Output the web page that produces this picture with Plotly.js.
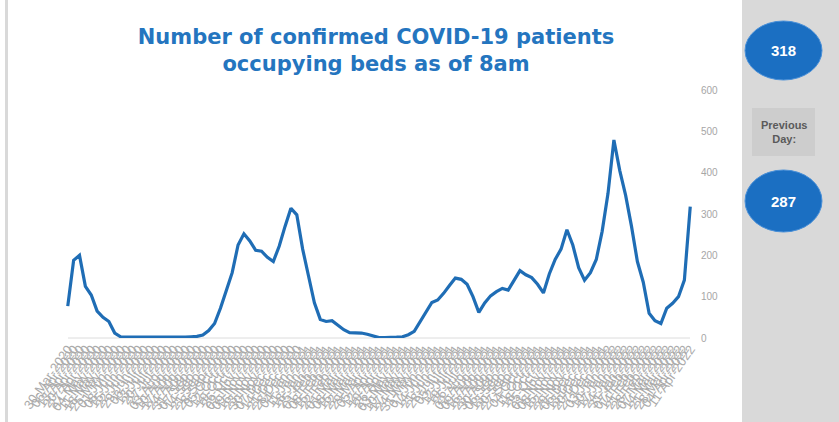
<!DOCTYPE html>
<html>
<head>
<meta charset="utf-8">
<script src="https://cdn.plot.ly/plotly-3.0.1.min.js"></script>
<style>
  html, body { margin: 0; padding: 0; background: #ffffff; }
  #chart { width: 839px; height: 422px; }
</style>
</head>
<body>
<div id="chart"></div>
<script>
// Weekly census of confirmed COVID-19 patients occupying beds
const startDate = "2020-03-30";
const patients = [
  77, 188, 200, 125, 104, 65, 50, 40, 12, 3,
  2, 2, 1, 1, 1, 1, 1, 1, 2, 2,
  2, 3, 4, 7, 18, 35, 72, 115, 158, 225,
  252, 235, 212, 210, 195, 185, 222, 270, 314, 298,
  215, 150, 85, 45, 40, 42, 30, 20, 13, 12,
  12, 9, 4, 1, 1, 1, 2, 3, 8, 16,
  40, 65, 86, 92, 108, 127, 145, 142, 130, 100,
  62, 85, 102, 112, 120, 116, 140, 163, 153, 146,
  130, 109, 155, 190, 215, 262, 225, 170, 140, 158,
  190, 258, 350, 479, 405, 345, 270, 185, 135, 60,
  42, 35, 72, 84, 100, 140, 318
];
const todayValue = "318";
const previousDayValue = "287";
const titleText = "Number of confirmed COVID-19 patients<br>occupying beds as of 8am";
const yTicks = [0, 100, 200, 300, 400, 500, 600];

// category labels: one per weekly point
const months = ["Jan","Feb","Mar","Apr","May","Jun","Jul","Aug","Sep","Oct","Nov","Dec"];
const dateLabels = [];
{
  const d0 = new Date(startDate + "T00:00:00Z");
  for (let i = 0; i < patients.length; i++) {
    const d = new Date(d0.getTime() + i * 7 * 86400000);
    const dd = String(d.getUTCDate()).padStart(2, "0");
    dateLabels.push(dd + "-" + months[d.getUTCMonth()] + "-" + d.getUTCFullYear());
  }
}

const W = 839, H = 422;
const px = v => v / W;
const py = v => 1 - v / H;

const trace = {
  x: dateLabels,
  y: patients,
  type: "scatter",
  mode: "lines",
  line: { color: "#1f6db5", width: 3.2 },
  hoverinfo: "x+y"
};

const layout = {
  width: W, height: H,
  margin: { l: 0, r: 0, t: 0, b: 0 },
  paper_bgcolor: "#ffffff",
  plot_bgcolor: "#ffffff",
  showlegend: false,
  title: {
    text: titleText,
    x: px(376), xanchor: "center",
    y: py(44), yanchor: "middle",
    font: { family: "DejaVu Sans, Arial, sans-serif", size: 21, color: "#2475bf", weight: "bold" }
  },
  xaxis: {
    domain: [px(66), px(692)],
    type: "category",
    tickmode: "linear", dtick: 1,
    tickangle: -55,
    tickfont: { family: "Liberation Sans, Arial, sans-serif", size: 13, color: "#ababab" },
    showgrid: false,
    showline: false,
    zeroline: false,
    ticks: "",
    range: [-0.3, patients.length - 0.7],
    automargin: false
  },
  yaxis: {
    domain: [py(338), py(90)],
    range: [0, 600],
    side: "right",
    tickvals: yTicks,
    ticktext: yTicks.map(String),
    tickfont: { family: "Liberation Sans, Arial, sans-serif", size: 10, color: "#a6a6a6" },
    showgrid: false,
    zeroline: false,
    showline: false,
    ticks: "",
    ticklabelstandoff: 8,
    automargin: false
  },
  shapes: [
    { type: "rect", xref: "paper", yref: "paper", x0: px(5), x1: px(8), y0: 0, y1: 1,
      fillcolor: "#d9d9d9", line: { width: 0 }, layer: "below" },
    { type: "line", xref: "paper", yref: "paper", x0: px(68), x1: px(690), y0: py(338), y1: py(338),
      line: { color: "#dcdcdc", width: 1 }, layer: "below" },
    { type: "rect", xref: "paper", yref: "paper", x0: px(742), x1: 1, y0: 0, y1: 1,
      fillcolor: "#d9d9d9", line: { width: 0 }, layer: "below" },
    { type: "rect", xref: "paper", yref: "paper", x0: px(752), x1: px(815), y0: py(156), y1: py(108),
      fillcolor: "#cdcdcd", line: { width: 0 } },
    { type: "circle", xref: "paper", yref: "paper", x0: px(745), x1: px(822), y0: py(80), y1: py(21),
      fillcolor: "#1b6fc2", line: { color: "#4a90d8", width: 1 } },
    { type: "circle", xref: "paper", yref: "paper", x0: px(745), x1: px(822), y0: py(232), y1: py(170),
      fillcolor: "#1b6fc2", line: { color: "#4a90d8", width: 1 } }
  ],
  annotations: [
    { xref: "paper", yref: "paper", x: px(783.5), y: py(51), xanchor: "center", yanchor: "middle",
      text: "<b>" + todayValue + "</b>",
      showarrow: false, font: { family: "Liberation Sans, Arial, sans-serif", size: 15, color: "#ffffff" } },
    { xref: "paper", yref: "paper", x: px(783.5), y: py(132), xanchor: "center", yanchor: "middle",
      text: "<b>Previous<br>Day:</b>",
      showarrow: false, font: { family: "Liberation Sans, Arial, sans-serif", size: 11, color: "#5a5a5a" } },
    { xref: "paper", yref: "paper", x: px(783.5), y: py(201), xanchor: "center", yanchor: "middle",
      text: "<b>" + previousDayValue + "</b>",
      showarrow: false, font: { family: "Liberation Sans, Arial, sans-serif", size: 15, color: "#ffffff" } }
  ]
};

Plotly.newPlot("chart", [trace], layout, { displayModeBar: false, staticPlot: true });
</script>
</body>
</html>
